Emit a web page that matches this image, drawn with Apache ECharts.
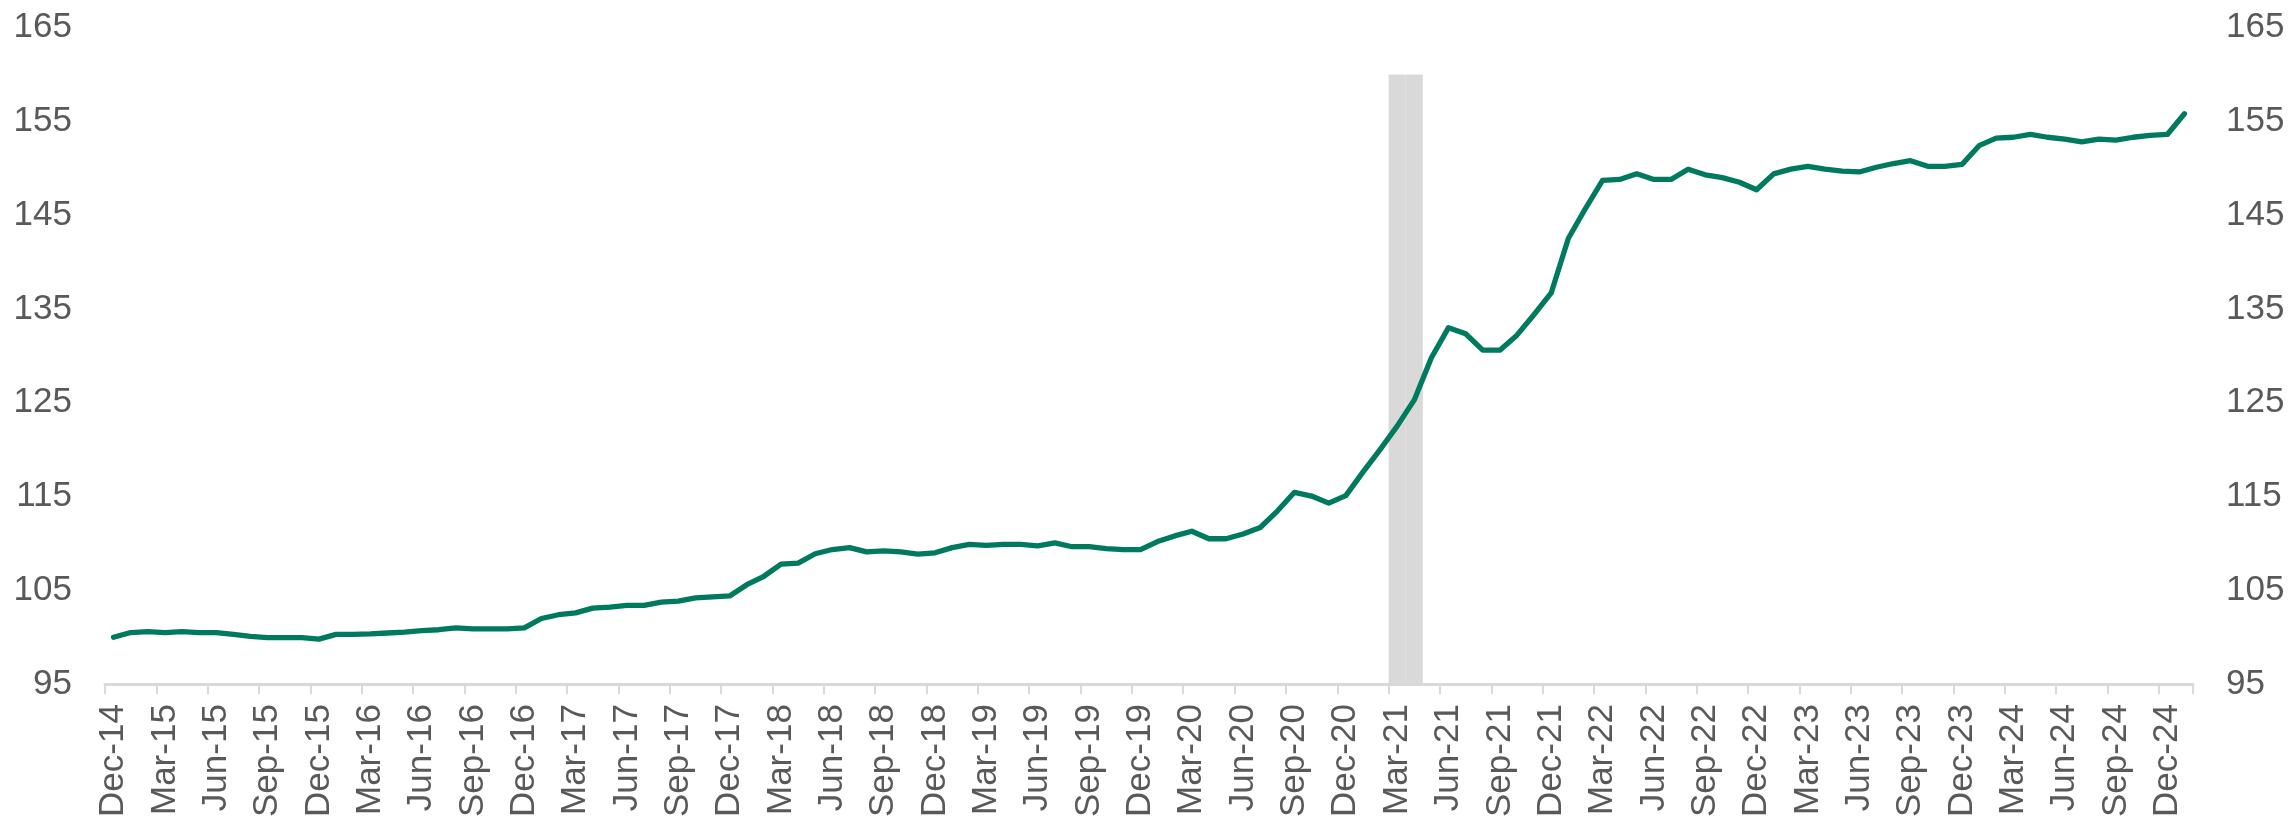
<!DOCTYPE html>
<html>
<head>
<meta charset="utf-8">
<script src="https://cdn.jsdelivr.net/npm/echarts@6/dist/echarts.min.js"></script>
<style>
html,body{margin:0;padding:0;background:#fff;}
#chart{width:2288px;height:820px;}
</style>
</head>
<body>
<div id="chart"></div>
<script>
const categories = [
'Dec-14','Jan-15','Feb-15','Mar-15','Apr-15','May-15','Jun-15','Jul-15','Aug-15','Sep-15','Oct-15','Nov-15',
'Dec-15','Jan-16','Feb-16','Mar-16','Apr-16','May-16','Jun-16','Jul-16','Aug-16','Sep-16','Oct-16','Nov-16',
'Dec-16','Jan-17','Feb-17','Mar-17','Apr-17','May-17','Jun-17','Jul-17','Aug-17','Sep-17','Oct-17','Nov-17',
'Dec-17','Jan-18','Feb-18','Mar-18','Apr-18','May-18','Jun-18','Jul-18','Aug-18','Sep-18','Oct-18','Nov-18',
'Dec-18','Jan-19','Feb-19','Mar-19','Apr-19','May-19','Jun-19','Jul-19','Aug-19','Sep-19','Oct-19','Nov-19',
'Dec-19','Jan-20','Feb-20','Mar-20','Apr-20','May-20','Jun-20','Jul-20','Aug-20','Sep-20','Oct-20','Nov-20',
'Dec-20','Jan-21','Feb-21','Mar-21','Apr-21','May-21','Jun-21','Jul-21','Aug-21','Sep-21','Oct-21','Nov-21',
'Dec-21','Jan-22','Feb-22','Mar-22','Apr-22','May-22','Jun-22','Jul-22','Aug-22','Sep-22','Oct-22','Nov-22',
'Dec-22','Jan-23','Feb-23','Mar-23','Apr-23','May-23','Jun-23','Jul-23','Aug-23','Sep-23','Oct-23','Nov-23',
'Dec-23','Jan-24','Feb-24','Mar-24','Apr-24','May-24','Jun-24','Jul-24','Aug-24','Sep-24','Oct-24','Nov-24',
'Dec-24','Jan-25'
];

const indexValues = [
100.0,100.5,100.6,100.5,100.6,100.5,100.5,100.3,100.1,99.95,99.95,99.95,
99.8,100.3,100.3,100.35,100.45,100.55,100.7,100.8,101.0,100.9,100.9,100.9,
101.0,102.0,102.4,102.6,103.1,103.2,103.4,103.4,103.75,103.85,104.2,104.3,
104.4,105.6,106.5,107.8,107.9,108.9,109.35,109.55,109.1,109.2,109.1,108.85,
109.0,109.55,109.9,109.8,109.9,109.9,109.75,110.05,109.65,109.65,109.45,109.35,
109.35,110.2,110.8,111.3,110.5,110.5,111.0,111.7,113.45,115.45,115.05,114.3,
115.1,117.6,120.0,122.5,125.3,129.8,133.0,132.35,130.6,130.6,132.2,134.4,
136.7,142.5,145.7,148.7,148.8,149.4,148.8,148.8,149.9,149.3,149.0,148.5,
147.7,149.4,149.9,150.2,149.9,149.7,149.6,150.1,150.5,150.8,150.2,150.2,
150.4,152.4,153.2,153.3,153.6,153.3,153.1,152.8,153.1,153.0,153.3,153.5,
153.6,155.8
];

const shadedMonths = ['Mar-21','Apr-21'];
const shadedTop = 160;

const yTicks = [95,105,115,125,135,145,155,165];

const shadeData = categories.map(c => shadedMonths.indexOf(c) >= 0 ? shadedTop : null);

const textColor = '#595959';
const fontFamily = '"Liberation Sans", Arial, sans-serif';

const chart = echarts.init(document.getElementById('chart'), null, {renderer:'canvas'});
const yAxisCommon = {
  type:'value',
  min: yTicks[0],
  max: yTicks[yTicks.length-1],
  interval: 10,
  axisLine:{show:false},
  axisTick:{show:false},
  splitLine:{show:false},
  axisLabel:{color:textColor, fontSize:35, fontFamily:fontFamily, margin:33}
};
chart.setOption({
  animation:false,
  backgroundColor:'#ffffff',
  grid:{left:105, right:95, top:27.5, bottom:132.5, containLabel:false},
  xAxis:{
    type:'category',
    data:categories,
    boundaryGap:true,
    axisLine:{show:true, lineStyle:{color:'#D9D9D9', width:3}},
    axisTick:{show:true, interval:2, length:10, lineStyle:{color:'#D9D9D9', width:2}},
    axisLabel:{interval:2, rotate:90, color:textColor, fontSize:35, fontFamily:fontFamily, margin:20},
    splitLine:{show:false}
  },
  yAxis:[
    Object.assign({position:'left'}, yAxisCommon),
    Object.assign({position:'right'}, yAxisCommon)
  ],
  series:[
    {
      type:'bar',
      data:shadeData,
      barWidth:'100%',
      barCategoryGap:'0%',
      itemStyle:{color:'#D9D9D9'},
      z:1,
      silent:true
    },
    {
      type:'line',
      data:indexValues,
      showSymbol:false,
      symbol:'none',
      lineStyle:{color:'#007A5E', width:5.3, join:'round', cap:'round'},
      z:3
    }
  ]
});
</script>
</body>
</html>
